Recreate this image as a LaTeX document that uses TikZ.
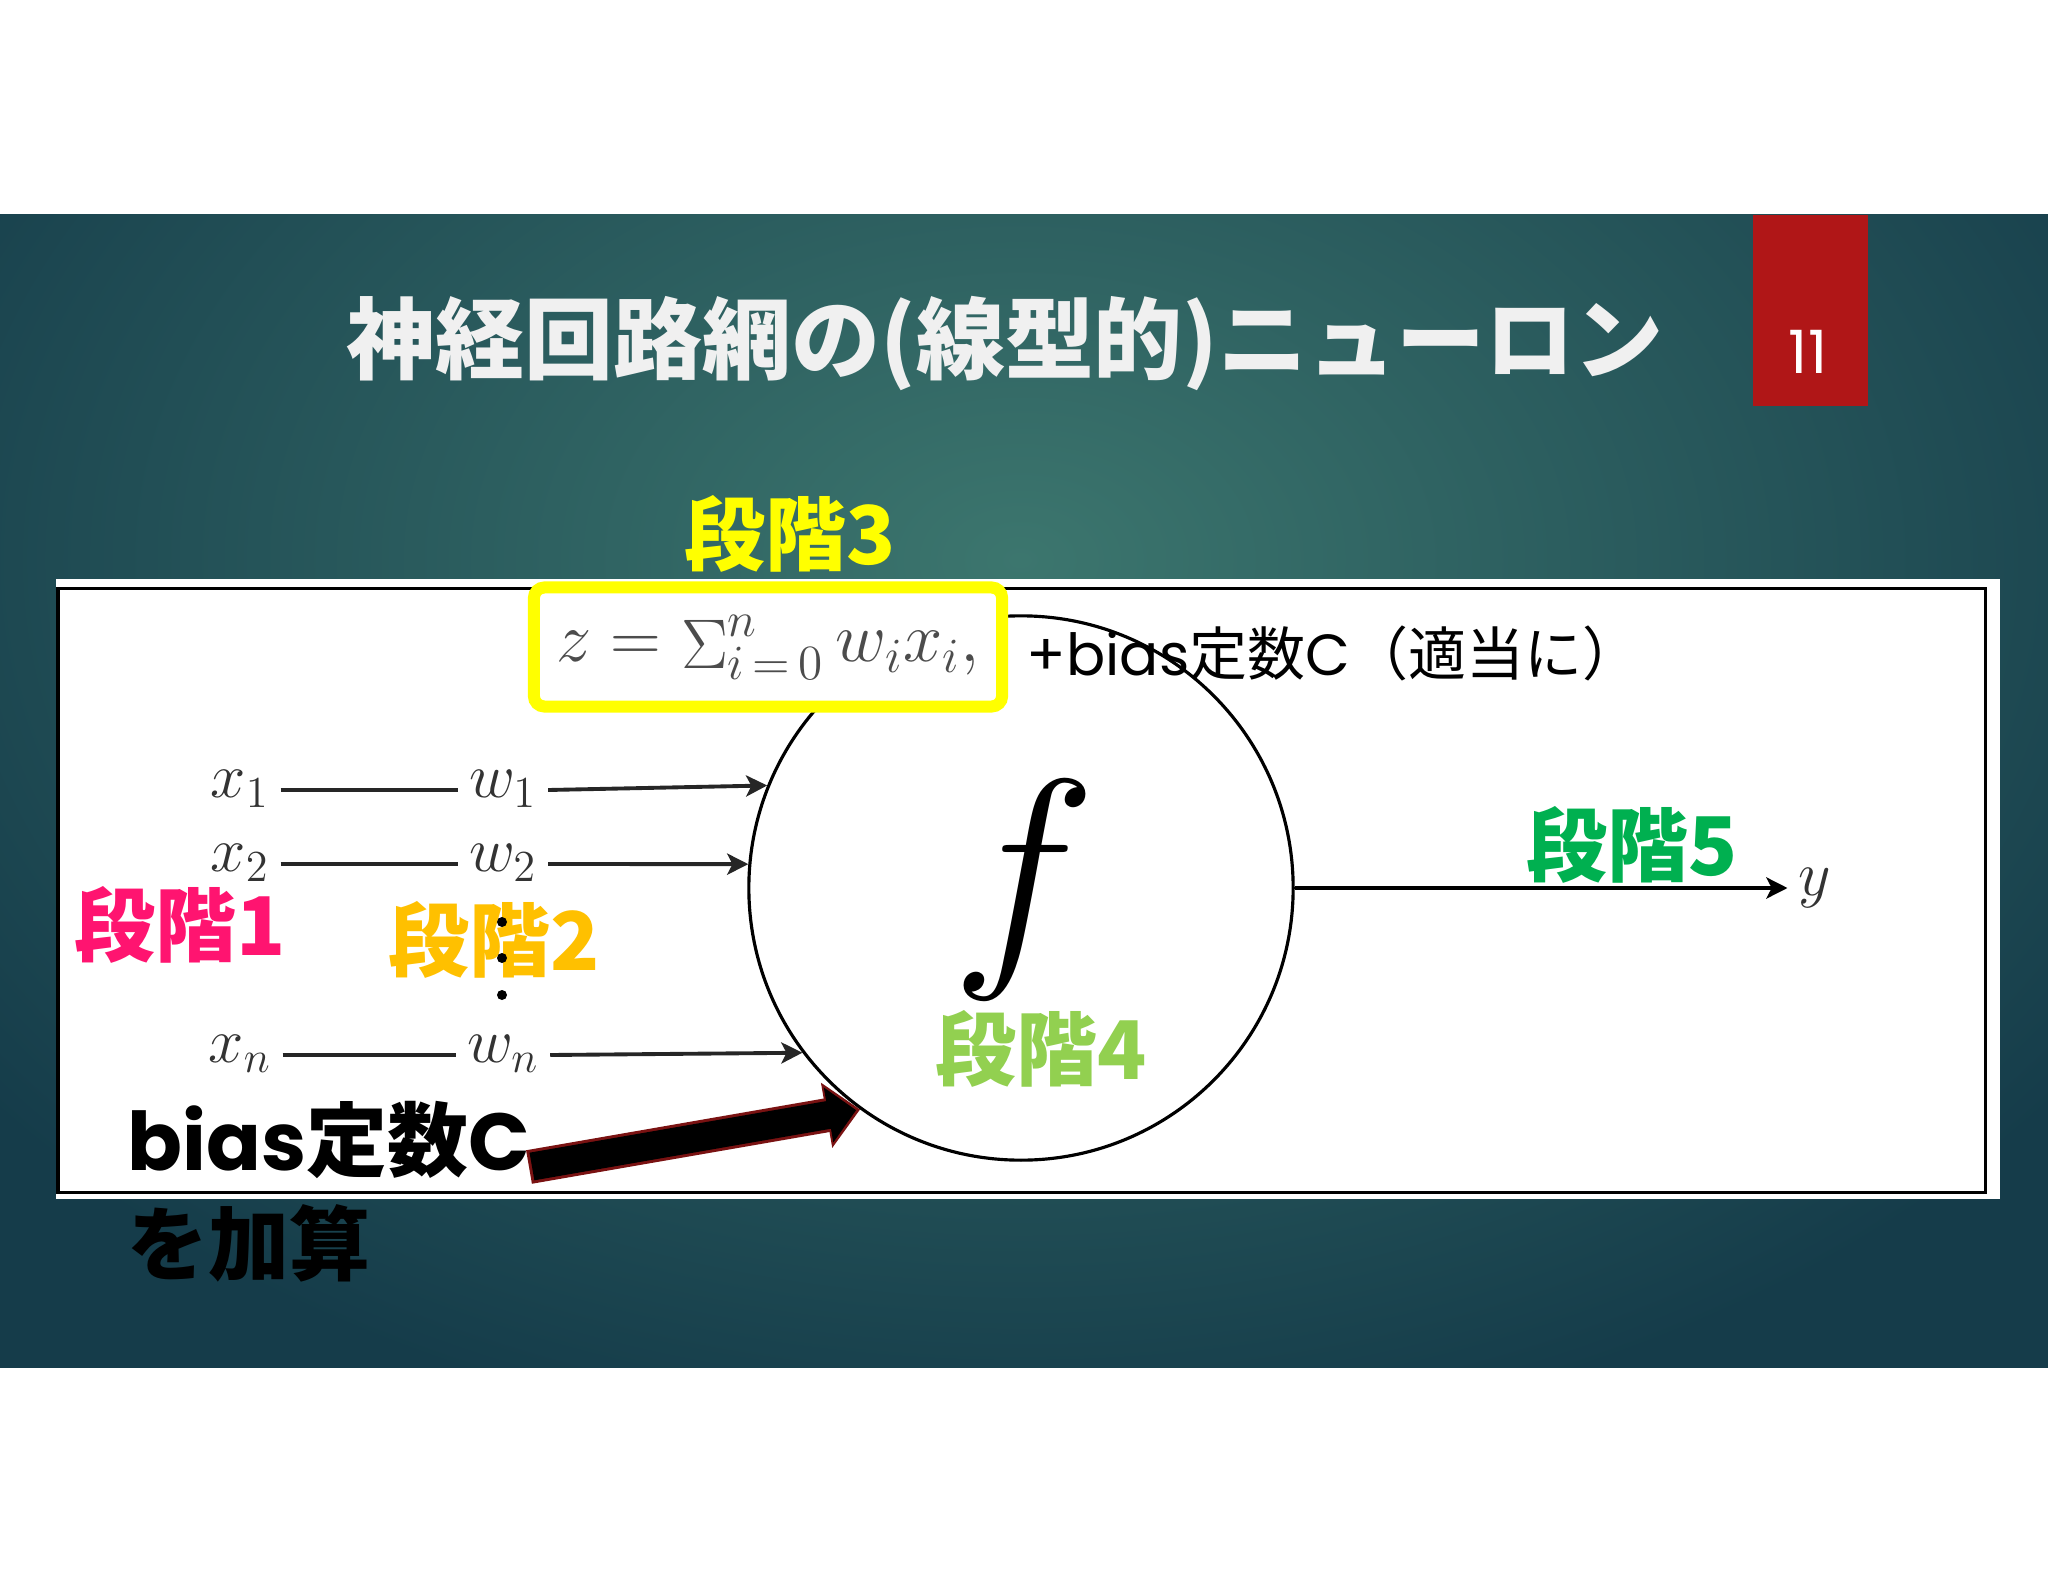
\RequirePackage{fix-cm}
\documentclass[tikz,border=0pt]{standalone}
\usepackage{fontspec}
\newfontfamily\jpfont{Noto Sans CJK JP}
\newfontfamily\popfont{Poppins}
\usetikzlibrary{arrows.meta}
\definecolor{slideinner}{HTML}{3C766E}
\definecolor{slideouter}{HTML}{153C4A}
\definecolor{pagered}{HTML}{B01617}
\definecolor{titlegray}{HTML}{F0F0F0}
\definecolor{stageone}{HTML}{FF1470}
\definecolor{stagetwo}{HTML}{FFC000}
\definecolor{stagethree}{HTML}{FFFF00}
\definecolor{stagefour}{HTML}{92D050}
\definecolor{stagefive}{HTML}{00B050}
\definecolor{arrowred}{HTML}{7A1212}
\tikzset{
    title/.style = {inner sep=0pt, text=titlegray, font=\jpfont\bfseries\fontsize{25.3}{25.3}\selectfont},
    pagenum/.style = {inner sep=0pt, text=white, font=\popfont\fontsize{17}{17}\selectfont},
    stage/.style = {inner sep=0pt, font=\jpfont\bfseries\fontsize{23}{23}\selectfont},
    biasnote/.style = {inner sep=0pt, anchor=west, font=\fontsize{23}{23}\selectfont},
    inlabel/.style = {inner sep=3pt, anchor=mid, text=black!80, font=\fontsize{18}{18}\selectfont},
    neuron/.style = {circle, draw=black, line width=0.9pt, minimum size=5.44cm, inner sep=0pt, fill=white},
    sumbox/.style = {rectangle, draw=stagethree, line width=0.12cm, rounded corners=3pt, fill=white,
                     minimum width=4.68cm, minimum height=1.19cm, inner sep=0pt, text=black!70,
                     font=\fontsize{20}{20}\selectfont},
    edgein/.style = {black!85, line width=1.1pt},
    edgea/.style = {black!85, line width=1.1pt, -{Stealth[length=6pt,width=6pt,inset=1.5pt]}},
    edgeout/.style = {black, line width=1.3pt, -{Stealth[length=6pt,width=6pt,inset=1.5pt]}},
    biasout/.style = {arrowred, line width=0.34cm, -{Triangle[length=0.34cm,width=0.64cm]}},
    biasin/.style = {black, line width=0.28cm, -{Triangle[length=0.28cm,width=0.54cm]},
                     shorten >=0.04cm, shorten <=0.03cm},
}

\begin{document}
\begin{tikzpicture}[x=0.01cm, y=-0.01cm]
\useasboundingbox (0,0) rectangle (2048,1582);
\fill[white] (0,0) rectangle (2048,1582);
% slide background
\begin{scope}
\clip (0,215) rectangle (2048,1367);
\shade[inner color=slideinner, outer color=slideouter] (-280,-340) rectangle (2320,1460);
\end{scope}
\fill[pagered] (1753,215) rectangle (1868,406);
\node[pagenum] at (1808,352) (num) {11};
\node[title] at (1005,343) (head) {神経回路網の(線型的)ニューロン};
%
% white panel
\fill[white] (56,579) rectangle (2000,1199);
\draw[black, line width=0.03cm] (58,588) rectangle (1985,1192);
%
\node[neuron] at (1021,888) (neu) {};
\node[inner sep=0pt, font=\fontsize{70}{70}\selectfont] at (1024,890) (act) {$f$};
\node[sumbox] at (768,647) (sum) {$z = \mathop{\Sigma}\nolimits_{i\,=\,0}^{n} w_i x_i,$};
\node[inner sep=0pt, anchor=west, font=\fontsize{16.5}{16.5}\selectfont] at (1026,653) (plusc)
    {{\popfont +bias}{\jpfont 定数}{\popfont C}{\jpfont （適当に）}};
%
\node[inlabel] at (240,790) (x1) {$x_1$};
\node[inlabel] at (240,864) (x2) {$x_2$};
\node[inlabel] at (240,1055) (xn) {$x_n$};
\node[inlabel] at (503,790) (w1) {$w_1$};
\node[inlabel] at (503,864) (w2) {$w_2$};
\node[inlabel] at (503,1055) (wn) {$w_n$};
\node[inlabel] at (1815,888) (yout) {$y$};
%
\draw[edgein] (x1.mid east) -- (w1.mid west);
\draw[edgein] (x2.mid east) -- (w2.mid west);
\draw[edgein] (xn.mid east) -- (wn.mid west);
\draw[edgea] (w1.mid east) -- (neu.158.9);
\draw[edgea] (w2.mid east) -- (neu.175.0);
\draw[edgea] (wn.mid east) -- (neu.217.6);
\draw[edgeout] (neu.east) -- (yout.mid west);
%
\node[stage, text=stageone] at (180,925) (s1) {段階1};
\node[stage, text=stagetwo] at (494,940) (s2) {段階2};
\node[stage, text=stagethree] at (790,534) (s3) {段階3};
\node[stage, text=stagefour] at (1041,1049) (s4) {段階4};
\node[stage, text=stagefive] at (1632,845) (s5) {段階5};
\foreach \dy in {922,958,995}
    \fill[black] (502,\dy) circle (0.05cm);
%
\node[biasnote] at (127,1140) (bias) {{\popfont\bfseries bias}{\jpfont\bfseries 定数}{\popfont\bfseries C}};
\node[biasnote] at (127,1243) (kasan) {\jpfont\bfseries を加算};
\coordinate (btail) at (529,1167);
\draw[biasout] (btail) -- (neu.234.4);
\draw[biasin] (btail) -- (neu.234.4);

\end{tikzpicture}
\end{document}
